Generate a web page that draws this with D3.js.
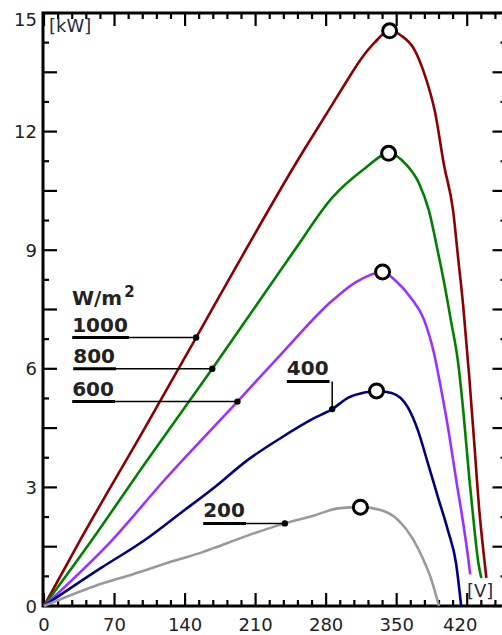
<!DOCTYPE html>
<html>
<head>
<meta charset="utf-8">
<script src="https://cdn.jsdelivr.net/npm/d3@7"></script>
<style>
  body { margin: 0; background: #fff; }
</style>
</head>
<body>
<script>
// irradiance levels, one curve each (W/m2)
var irradiance = [1000, 800, 600, 400, 200];
var colors = ["#8b0000", "#008000", "#9b30ff", "#000080", "#999999"];

// P-V curves: [voltage V, power kW]
var curve1000 = [[0,0],[34,1.58],[100,4.5],[151,6.79],[200,9.0],[250,11.2],[284,12.6],[301,13.3],[315,13.85],[328,14.25],[343,14.55],[355,14.42],[367,14.1],[377,13.5],[388,12.5],[397,11.15],[406,10.0],[411,8.8],[416,7.6],[422,5.8],[427,4.12],[432,2.42],[436,1.4],[439,0.71]];
var curve800 = [[0,0],[47,1.65],[100,3.6],[167,6.0],[220,7.95],[250,9.05],[285,10.3],[318,11.06],[342,11.45],[360,11.15],[372,10.7],[382,10.0],[391,8.95],[397,8.19],[404,7.2],[411,6.15],[416,4.96],[422,3.25],[427,1.98],[431,1.1],[434,0.71]];
var curve600 = [[0,0],[67,1.65],[120,3.2],[192,5.17],[240,6.5],[285,7.7],[310,8.2],[336,8.45],[350,8.2],[364,7.8],[377,7.25],[387,6.4],[394,5.5],[402,4.35],[409,3.2],[416,2.1],[420,1.4],[423,0.8]];
var curve400 = [[0,0],[57,0.97],[99,1.65],[136,2.36],[169,3.0],[202,3.69],[235,4.25],[268,4.75],[286,4.98],[302,5.27],[318,5.4],[330,5.44],[345,5.39],[361,5.03],[371,4.45],[381,3.61],[391,2.75],[401,1.9],[409,1.07],[414,0]];
var curve200 = [[0,0],[50,0.5],[89,0.81],[130,1.15],[156,1.35],[169,1.47],[202,1.78],[239,2.09],[268,2.29],[292,2.47],[314,2.5],[335,2.42],[352,2.16],[366,1.7],[376,1.2],[384,0.7],[392,0]];
var curves = [curve1000, curve800, curve600, curve400, curve200];

// maximum power points (open circles)
var mppVoltage = [343, 342, 336, 330, 314];
var mppPower = [14.55, 11.45, 8.45, 5.44, 2.5];

// voltage where each label's leader line touches its curve
var markerVoltage = [151, 167, 192, 286, 239];

var xTicks = [0, 70, 140, 210, 280, 350, 420];
var yTicks = [0, 3, 6, 9, 12, 15];

var width = 502,
    height = 635;

var x = d3.scaleLinear().domain([0, 458]).range([44, 505.5]);
var y = d3.scaleLinear().domain([0, 15]).range([606, 13]);

var svg = d3.select("body")
    .append("svg")
    .attr("width", width)
    .attr("height", height)
    .style("font-family", "'DejaVu Sans', Verdana, sans-serif");

// ---- frame ----
svg.append("rect")
    .attr("x", x(0) - 1)
    .attr("y", y(15))
    .attr("width", x(458) - x(0) + 1)
    .attr("height", y(0) - y(15))
    .attr("fill", "none")
    .attr("stroke", "#000")
    .attr("stroke-width", 3);

// ---- inward ticks on all four sides ----
var xMinor = d3.range(0, 459, 14);
var yMinor = d3.range(0, 15.01, 0.75);

var ticks = svg.append("g")
    .attr("stroke", "#000")
    .attr("stroke-width", 2.2);

// bottom and top: long at every 70 V, short every 14 V
[y(0), y(15)].forEach(function(edge, side) {
    var dir = side === 0 ? -1 : 1;
    ticks.append("g").selectAll("line")
        .data(xMinor)
        .enter()
        .append("line")
        .attr("x1", function(d) { return x(d); })
        .attr("x2", function(d) { return x(d); })
        .attr("y1", edge)
        .attr("y2", function(d) { return edge + dir * (d % 70 === 0 ? 13 : 6); });
});

// left and right: long every 1.5 kW, short every 0.75 kW
[x(0), x(458)].forEach(function(edge, side) {
    var dir = side === 0 ? 1 : -1;
    ticks.append("g").selectAll("line")
        .data(yMinor)
        .enter()
        .append("line")
        .attr("y1", function(d) { return y(d); })
        .attr("y2", function(d) { return y(d); })
        .attr("x1", edge)
        .attr("x2", function(d, i) { return edge + dir * (i % 2 === 0 ? 13 : 5); });
});

// tick labels
svg.append("g").selectAll("text")
    .data(xTicks)
    .enter()
    .append("text")
    .attr("x", function(d) { return x(d) + (d === 420 ? -7 : 0); })
    .attr("y", 631)
    .attr("text-anchor", "middle")
    .attr("font-size", 18)
    .attr("fill", "#222")
    .text(function(d) { return d; });

svg.append("g").selectAll("text")
    .data(yTicks)
    .enter()
    .append("text")
    .attr("x", 37)
    .attr("y", function(d) { return y(d) + (d === 15 ? 13 : 6.5); })
    .attr("text-anchor", "end")
    .attr("font-size", 18)
    .attr("fill", "#222")
    .text(function(d) { return d; });

// ---- curves ----
var line = d3.line()
    .x(function(d) { return x(d[0]); })
    .y(function(d) { return y(d[1]); })
    .curve(d3.curveMonotoneX);

svg.append("g").selectAll("path")
    .data(curves)
    .enter()
    .append("path")
    .attr("d", line)
    .attr("fill", "none")
    .attr("stroke", function(d, i) { return colors[i]; })
    .attr("stroke-width", 2.6)
    .attr("stroke-linejoin", "round");

// maximum power point circles
svg.append("g").selectAll("circle")
    .data(mppVoltage)
    .enter()
    .append("circle")
    .attr("cx", function(d) { return x(d); })
    .attr("cy", function(d, i) { return y(mppPower[i]); })
    .attr("r", 7)
    .attr("fill", "#fff")
    .attr("stroke", "#000")
    .attr("stroke-width", 3);

// ---- labels with leader lines ----
// power on a curve at a given voltage (linear between read points)
function powerAt(curve, v) {
    var i = d3.bisector(function(d) { return d[0]; }).left(curve, v);
    if (i <= 0) return curve[0][1];
    var a = curve[i - 1], b = curve[i];
    return a[1] + (b[1] - a[1]) * (v - a[0]) / (b[0] - a[0]);
}

// where each label text starts (voltage); 400 sits higher with a drop line
var labelV = [28, 29, 28, 241, 158];
var labelP = [null, null, null, 5.68, null];

var labels = svg.append("g").selectAll("g")
    .data(irradiance)
    .enter()
    .append("g");

labels.each(function(level, i) {
    var g = d3.select(this);
    var mv = markerVoltage[i];
    var mp = powerAt(curves[i], mv);
    var lx = x(labelV[i]);
    var ly = labelP[i] === null ? y(mp) : y(labelP[i]);

    var t = g.append("text")
        .attr("x", lx)
        .attr("y", ly - 6)
        .attr("font-size", 20)
        .attr("font-weight", "bold")
        .attr("fill", "#222")
        .text(level);
    var tw = t.node().getComputedTextLength();

    // thick underline under the number
    g.append("line")
        .attr("x1", lx).attr("x2", lx + tw + 1)
        .attr("y1", ly).attr("y2", ly)
        .attr("stroke", "#000").attr("stroke-width", 3);

    // thin leader to the dot
    if (labelP[i] === null) {
        g.append("line")
            .attr("x1", lx + tw).attr("x2", x(mv))
            .attr("y1", ly).attr("y2", y(mp))
            .attr("stroke", "#000").attr("stroke-width", 1.5);
    } else {
        g.append("line")
            .attr("x1", x(mv)).attr("x2", x(mv))
            .attr("y1", ly).attr("y2", y(mp))
            .attr("stroke", "#000").attr("stroke-width", 1.5);
    }

    g.append("circle")
        .attr("cx", x(mv))
        .attr("cy", y(mp))
        .attr("r", 3.2)
        .attr("fill", "#000");
});

// unit title for the labels
var unit = svg.append("text")
    .attr("x", 72)
    .attr("y", 305)
    .attr("font-size", 20)
    .attr("font-weight", "bold")
    .attr("fill", "#222");
unit.append("tspan").text("W/m");
unit.append("tspan").attr("font-size", 15).attr("dy", -8).attr("dx", 2).text("2");

// axis unit labels
svg.append("text")
    .attr("x", 49)
    .attr("y", 32)
    .attr("font-size", 18)
    .attr("fill", "#2a2a40")
    .text("[kW]");

svg.append("text")
    .attr("x", 467)
    .attr("y", 597)
    .attr("font-size", 18)
    .attr("fill", "#2a2a40")
    .text("[V]");
</script>
</body>
</html>
